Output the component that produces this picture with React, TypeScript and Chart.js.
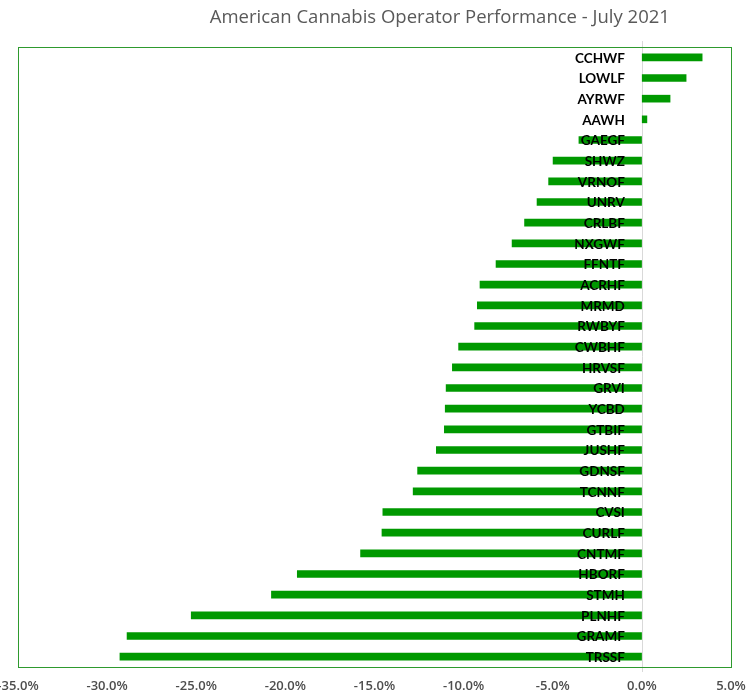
import React, { useEffect, useRef } from "react";
import { Chart, registerables } from "chart.js";

Chart.register(...registerables);

const TITLE = "American Cannabis Operator Performance - July 2021";

const tickers = [
  "CCHWF", "LOWLF", "AYRWF", "AAWH", "GAEGF", "SHWZ", "VRNOF", "UNRV", "CRLBF", "NXGWF",
  "FFNTF", "ACRHF", "MRMD", "RWBYF", "CWBHF", "HRVSF", "GRVI", "YCBD", "GTBIF", "JUSHF",
  "GDNSF", "TCNNF", "CVSI", "CURLF", "CNTMF", "HBORF", "STMH", "PLNHF", "GRAMF", "TRSSF",
];

const performance = [
  3.4, 2.5, 1.6, 0.3, -3.55, -5.0, -5.25, -5.9, -6.6, -7.3,
  -8.2, -9.1, -9.25, -9.4, -10.3, -10.65, -11.0, -11.05, -11.1, -11.55,
  -12.6, -12.85, -14.55, -14.6, -15.8, -19.35, -20.8, -25.3, -28.9, -29.3,
];

const xMin = -35;
const xMax = 5;
const xStep = 5;

const GREEN = "#009900";
const BORDER_GREEN = "#2e9a2e";
const GRAY_TEXT = "#595959";

const overlayPlugin = {
  id: "overlay",
  beforeDatasetsDraw(chart: any) {
    const { ctx, chartArea, scales } = chart;
    const x0 = scales.x.getPixelForValue(0);
    ctx.save();
    ctx.strokeStyle = "#d9d9d9";
    ctx.lineWidth = 1;
    ctx.beginPath();
    ctx.moveTo(Math.round(x0) + 0.5, chartArea.top - 6);
    ctx.lineTo(Math.round(x0) + 0.5, chartArea.bottom + 5);
    ctx.stroke();
    ctx.restore();
  },
  afterDatasetsDraw(chart: any) {
    const { ctx, chartArea, scales } = chart;
    const x0 = scales.x.getPixelForValue(0);
    ctx.save();
    ctx.fillStyle = "#000";
    ctx.font = "bold 13.5px Lato, 'Open Sans', sans-serif";
    ctx.textAlign = "right";
    ctx.textBaseline = "middle";
    tickers.forEach((t, i) => {
      const y = scales.y.getPixelForValue(i);
      ctx.fillText(t, x0 - 17, y + 1);
    });
    // plot border
    ctx.strokeStyle = BORDER_GREEN;
    ctx.lineWidth = 1;
    ctx.strokeRect(
      Math.round(chartArea.left) + 0.5,
      Math.round(chartArea.top) + 0.5,
      Math.round(chartArea.right - chartArea.left),
      Math.round(chartArea.bottom - chartArea.top)
    );
    // title
    ctx.fillStyle = GRAY_TEXT;
    ctx.font = "18.5px 'Open Sans', Lato, sans-serif";
    ctx.textAlign = "center";
    ctx.textBaseline = "middle";
    ctx.fillText(TITLE, chart.width * 0.588, 18);
    ctx.restore();
  },
};

export default function App() {
  const canvasRef = useRef<HTMLCanvasElement | null>(null);

  useEffect(() => {
    if (!canvasRef.current) return;
    const chart = new Chart(canvasRef.current, {
      type: "bar",
      data: {
        labels: tickers,
        datasets: [
          {
            data: performance,
            backgroundColor: GREEN,
            borderWidth: 0,
            barPercentage: 0.37,
            categoryPercentage: 1,
          },
        ],
      },
      options: {
        indexAxis: "y",
        animation: false,
        responsive: false,
        maintainAspectRatio: false,
        layout: {
          autoPadding: false,
          padding: { left: 18, right: 17, top: 47, bottom: 0 },
        },
        plugins: {
          legend: { display: false },
          title: { display: false },
          tooltip: { enabled: false },
        },
        scales: {
          x: {
            type: "linear",
            min: xMin,
            max: xMax,
            afterFit: (scale: any) => {
              scale.height = 27;
              scale.paddingLeft = 0;
              scale.paddingRight = 0;
            },
            ticks: {
              stepSize: xStep,
              padding: 11,
              color: "#4d4d4d",
              font: { size: 13, weight: "600", family: "'Open Sans', Lato, sans-serif" },
              callback: (v: any) => Number(v).toFixed(1) + "%",
            },
            grid: { display: false, drawTicks: false },
            border: { display: false },
          },
          y: {
            display: false,
            grid: { display: false },
          },
        },
      },
      plugins: [overlayPlugin],
    });
    return () => chart.destroy();
  }, []);

  return (
    <div style={{ position: "absolute", left: 0, top: 0, width: 748, height: 694, background: "#fff" }}>
      <canvas ref={canvasRef} width={748} height={694} style={{ width: 748, height: 694 }} />
    </div>
  );
}
